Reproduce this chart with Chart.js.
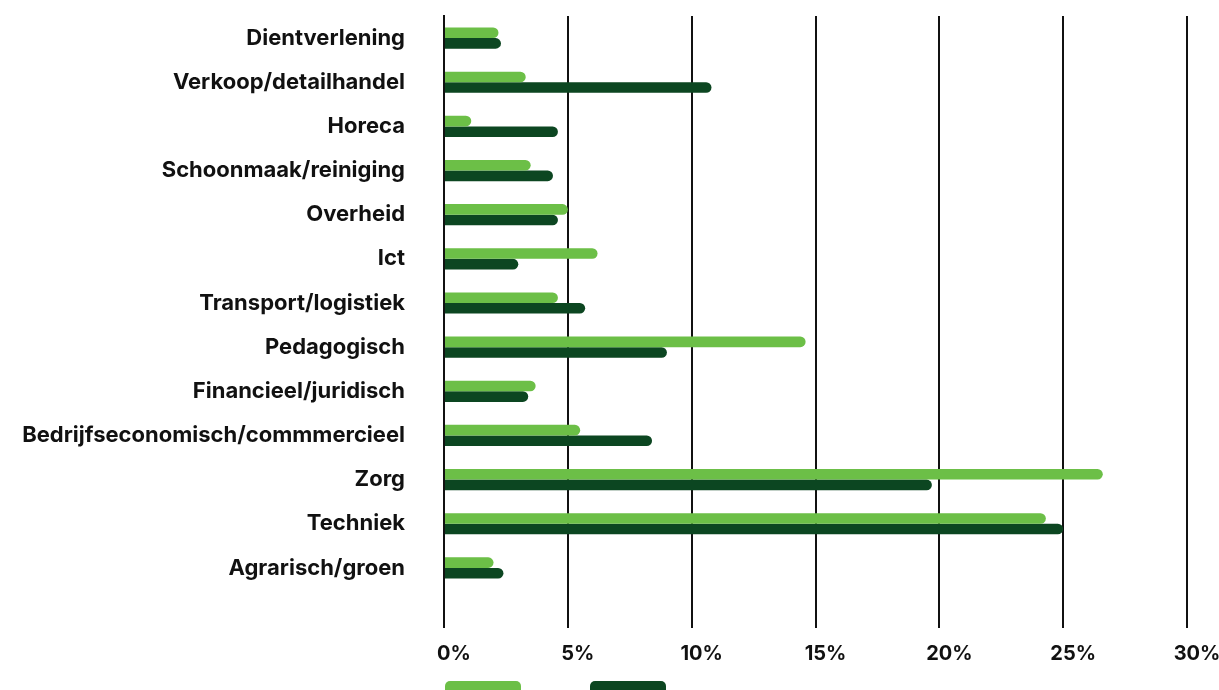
<!DOCTYPE html>
<html lang="nl">
<head>
<meta charset="utf-8">
<title>Sectoren</title>
<script src="https://cdn.jsdelivr.net/npm/chart.js@4/dist/chart.umd.min.js"></script>
<style>
  html, body { margin: 0; padding: 0; background: #fff; overflow: hidden; }
  .wrap { position: relative; width: 1219px; height: 680px; }
  #legend { display: flex; gap: 69px; margin-top: 1px; }
  #legend .item { display: flex; flex-direction: column; }
  #legend .box { width: 76px; height: 16px; border-radius: 5px; }
  #legend .txt { font: 700 16px Inter, sans-serif; color: #111; margin-top: 6px; }
</style>
</head>
<body>
<div class="wrap"><canvas id="sectoren"></canvas></div>
<div id="legend"></div>
<script>
const sectors = [
  'Dientverlening',
  'Verkoop/detailhandel',
  'Horeca',
  'Schoonmaak/reiniging',
  'Overheid',
  'Ict',
  'Transport/logistiek',
  'Pedagogisch',
  'Financieel/juridisch',
  'Bedrijfseconomisch/commmercieel',
  'Zorg',
  'Techniek',
  'Agrarisch/groen',
];
const seriesNames = ['Groep A', 'Groep B'];
const lightValues = [2.2, 3.3, 1.1, 3.5, 5.0, 6.2, 4.6, 14.6, 3.7, 5.5, 26.6, 24.3, 2.0];
const darkValues = [2.3, 10.8, 4.6, 4.4, 4.6, 3.0, 5.7, 9.0, 3.4, 8.4, 19.7, 25.0, 2.4];
const xTicks = [0, 5, 10, 15, 20, 25, 30];

const lightGreen = '#6cbf47';
const darkGreen = '#0c4621';
const fontFamily = 'Inter, "Noto Sans", sans-serif';

// legend drawn as html under the canvas, lined up with the plot area
const htmlLegend = {
  id: 'htmlLegend',
  afterUpdate(chart) {
    const box = document.querySelector('#legend');
    box.innerHTML = '';
    box.style.paddingLeft = chart.chartArea.left + 1 + 'px';
    const items = chart.options.plugins.legend.labels.generateLabels(chart);
    items.forEach(item => {
      const el = document.createElement('div');
      el.className = 'item';
      el.innerHTML =
        '<span class="box" style="background:' + item.fillStyle + '"></span>' +
        '<span class="txt">' + item.text + '</span>';
      box.appendChild(el);
    });
  },
};

const ctx = document.querySelector('#sectoren');
const sectorChart = new Chart(ctx, {
  type: 'bar',
  data: {
    labels: sectors,
    datasets: [
      {
        label: seriesNames[0],
        data: lightValues,
        backgroundColor: lightGreen,
        borderRadius: 6,
        borderSkipped: 'start',
        categoryPercentage: 0.48,
        barPercentage: 1,
      },
      {
        label: seriesNames[1],
        data: darkValues,
        backgroundColor: darkGreen,
        borderRadius: 6,
        borderSkipped: 'start',
        categoryPercentage: 0.48,
        barPercentage: 1,
      },
    ],
  },
  options: {
    indexAxis: 'y',
    responsive: true,
    maintainAspectRatio: false,
    animation: false,
    layout: { padding: { top: 16, right: 32, bottom: 0, left: 0 } },
    plugins: {
      legend: { display: false },
      tooltip: { enabled: false },
    },
    scales: {
      x: {
        min: 0,
        max: 30,
        afterBuildTicks: scale => {
          scale.ticks = xTicks.map(v => ({ value: v }));
        },
        afterFit: scale => {
          scale.paddingLeft = 0;
          scale.paddingRight = 0;
        },
        grid: {
          color: '#111',
          lineWidth: 2,
          drawTicks: true,
          tickLength: 38,
        },
        border: { display: false },
        ticks: {
          color: '#111',
          font: { family: fontFamily, weight: '700', size: 20 },
          padding: 14,
          labelOffset: 10,
          maxRotation: 0,
          callback: v => v + '%',
        },
      },
      y: {
        afterFit: scale => {
          scale.width = 444;
          scale.paddingTop = 0;
          scale.paddingBottom = 0;
        },
        grid: { display: false, drawTicks: false },
        border: { display: true, color: '#111', width: 2 },
        ticks: {
          color: '#111',
          font: { family: fontFamily, weight: '700', size: 22 },
          padding: 39,
        },
      },
    },
  },
  plugins: [htmlLegend],
});
</script>
</body>
</html>
